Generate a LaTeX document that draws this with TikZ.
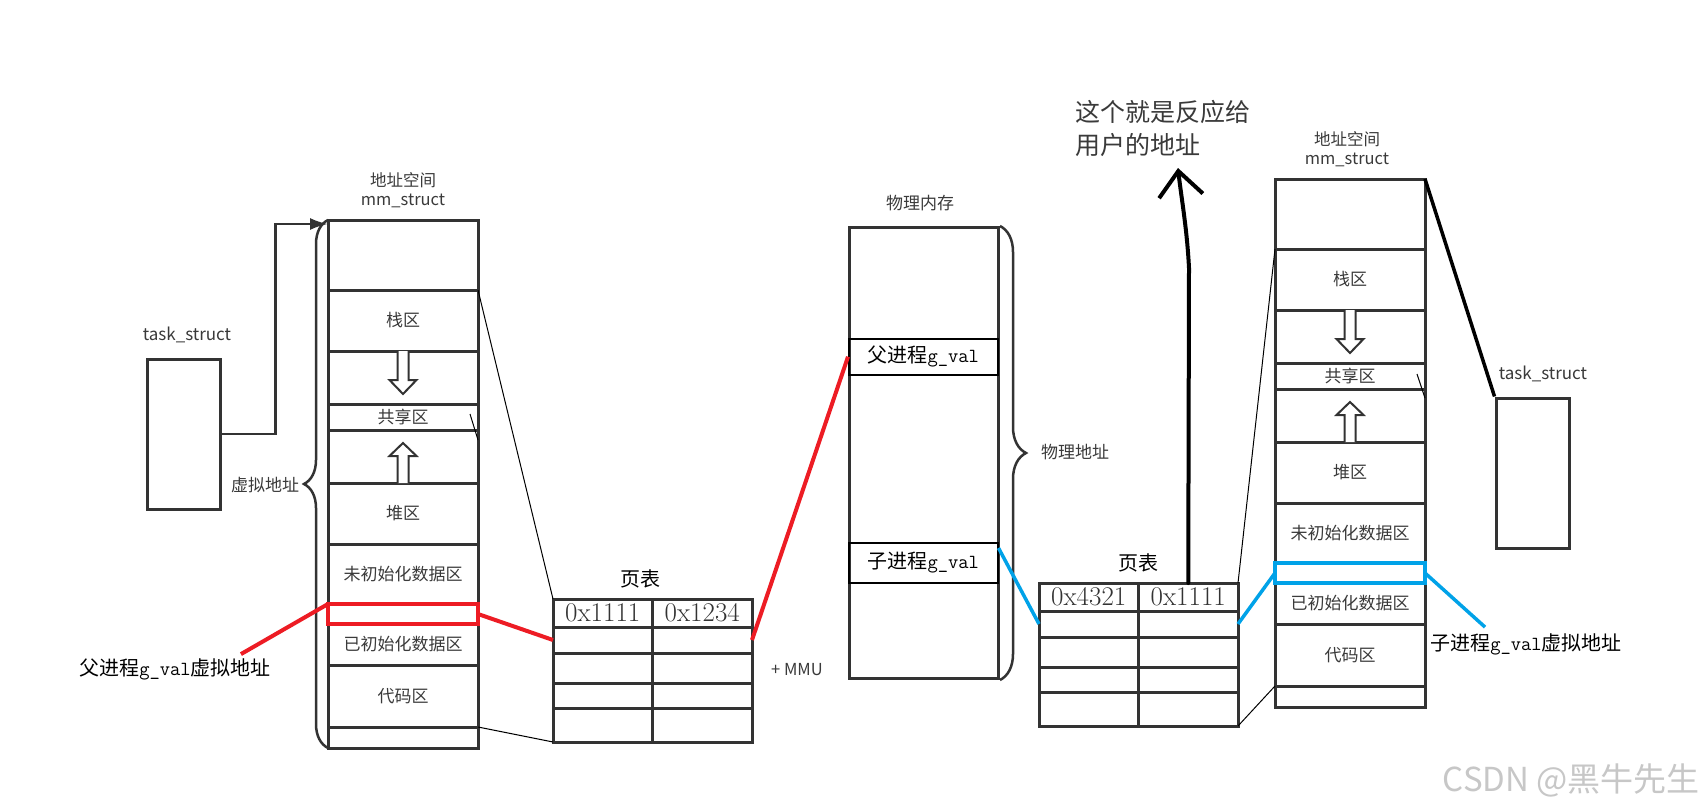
\documentclass[tikz,border=0pt]{standalone}
\usepackage{fontspec}
\newfontfamily\cjk{Noto Sans CJK SC}
\usepackage{xcolor}
\usetikzlibrary{positioning, arrows.meta, calc, decorations.pathreplacing}

\definecolor{boxgray}{HTML}{333333}
\definecolor{txtgray}{HTML}{3A3A3A}
\definecolor{markred}{HTML}{ED1C24}
\definecolor{markblue}{HTML}{00A2E8}

\begin{document}
\begin{tikzpicture}[x=1pt, y=-1pt,
    seg/.style={rectangle, draw=boxgray, line width=3pt, minimum width=150pt, inner sep=0pt, outer sep=0pt, text=txtgray, font=\cjk\fontsize{17}{19}\selectfont},
    cell/.style={rectangle, draw=boxgray, line width=3pt, minimum width=99.5pt, inner sep=0pt, outer sep=0pt, text=boxgray, font=\fontsize{27}{27}\selectfont},
    tbox/.style={rectangle, draw=boxgray, line width=3pt, minimum width=73pt, minimum height=150pt},
    lbl/.style={inner sep=0pt, text=txtgray, font=\cjk\fontsize{17}{19}\selectfont},
    big/.style={lbl, text=black, font=\cjk\fontsize{20}{22}\selectfont},
    tie/.style={black, line width=1pt},
    hollow/.style={draw=boxgray, line width=2pt, fill=white},
    redmark/.style={markred, line width=4pt},
    bluemark/.style={markblue, line width=3.5pt}]

    \path[use as bounding box, fill=white] (0,0) rectangle (1706,808);

    % parent process
    \node[lbl, font=\cjk\fontsize{17}{19}\selectfont] (ptasklabel) at (187,335) {task\_struct};
    \node[tbox] (ptask) at (183.5,434) {};

    \node[lbl, align=center, font=\cjk\fontsize{16.5}{19.5}\selectfont] (pmmlabel) at (403,190) {地址空间\\mm\_struct};
    \node[seg, minimum height=70pt, anchor=north west] (ptop) at (328,220) {};
    \node[seg, minimum height=61pt, below=0pt of ptop] (pstack) {栈区};
    \node[seg, minimum height=53pt, below=0pt of pstack] (pdown) {};
    \node[seg, minimum height=26pt, below=0pt of pdown] (pshare) {共享区};
    \node[seg, minimum height=53pt, below=0pt of pshare] (pup) {};
    \node[seg, minimum height=61pt, below=0pt of pup] (pheap) {堆区};
    \node[seg, minimum height=60pt, below=0pt of pheap] (pbss) {未初始化数据区};
    \node[seg, minimum height=20pt, below=0pt of pbss] (pslot) {};
    \node[seg, minimum height=41pt, below=0pt of pslot] (pdata) {已初始化数据区};
    \node[seg, minimum height=62pt, below=0pt of pdata] (pcode) {代码区};
    \node[seg, minimum height=21pt, below=0pt of pcode] (pbot) {};
    \draw[hollow] ([xshift=-5.5pt]pdown.north) -- ++(0,29) -- ++(-8,0) -- ++(13.5,14) -- ++(13.5,-14) -- ++(-8,0) -- ++(0,-29);
    \draw[hollow] ([xshift=-5.5pt]pup.south) -- ++(0,-27) -- ++(-8,0) -- ++(13.5,-13) -- ++(13.5,13) -- ++(-8,0) -- ++(0,27);

    \draw[boxgray, line width=2.5pt, -{Latex[length=18pt,width=12pt]}] (ptask.east) -- ++(54,0) |- ([yshift=-4pt]ptop.north west);
    \draw[boxgray, line width=2.5pt, decorate, decoration={brace, amplitude=24pt}] (pbot.south west) -- (ptop.north west);
    \node[lbl] (vlabel) at (265,485) {虚拟地址};

    % parent page table
    \node[big] (ltlabel) at (640,579) {页表};
    \node[cell, minimum height=28pt, anchor=north west] (lt1a) at (553,599) {0x1111};
    \node[cell, minimum height=28pt, right=0pt of lt1a] (lt1b) {0x1234};
    \node[cell, minimum height=26pt, below=0pt of lt1a] (lt2a) {};
    \node[cell, minimum height=26pt, below=0pt of lt1b] (lt2b) {};
    \node[cell, minimum height=30pt, below=0pt of lt2a] (lt3a) {};
    \node[cell, minimum height=30pt, below=0pt of lt2b] (lt3b) {};
    \node[cell, minimum height=25pt, below=0pt of lt3a] (lt4a) {};
    \node[cell, minimum height=25pt, below=0pt of lt3b] (lt4b) {};
    \node[cell, minimum height=34pt, below=0pt of lt4a] (lt5a) {};
    \node[cell, minimum height=34pt, below=0pt of lt4b] (lt5b) {};
    \node[lbl, font=\cjk\fontsize{16.5}{19}\selectfont] (mmu) at (797,670) {+ MMU};

    \draw[tie] (ptop.south east) -- (lt1a.north west);
    \draw[tie] (pcode.south east) -- (lt5a.south west);
    \draw[tie] ($(pshare.east)+(-8,-3)$) -- ($(pup.north east)+(0,10)$);

    % physical memory
    \node[lbl] (memlabel) at (920,203) {物理内存};
    \node[tbox, minimum width=149pt, minimum height=451pt, anchor=north west] (mem) at (848,226) {};
    \node[rectangle, draw=black, line width=1.5pt, minimum width=149pt, minimum height=36pt, inner sep=0pt, anchor=north west, font=\cjk\fontsize{20}{22}\selectfont] (memfather) at (848,338) {父进程{\ttfamily g\_val}};
    \node[rectangle, draw=black, line width=1.5pt, minimum width=149pt, minimum height=40pt, inner sep=0pt, anchor=north west, font=\cjk\fontsize{20}{22}\selectfont] (memchild) at (848,542) {子进程{\ttfamily g\_val}};
    \draw[boxgray, line width=2.5pt, decorate, decoration={brace, amplitude=26pt}] (mem.north east) -- (mem.south east);
    \node[lbl] (physlabel) at (1075,452) {物理地址};

    % child page table
    \node[big] (rtlabel) at (1138,563) {页表};
    \node[cell, minimum height=28pt, anchor=north west] (rt1a) at (1039,583) {0x4321};
    \node[cell, minimum height=28pt, right=0pt of rt1a] (rt1b) {0x1111};
    \node[cell, minimum height=26pt, below=0pt of rt1a] (rt2a) {};
    \node[cell, minimum height=26pt, below=0pt of rt1b] (rt2b) {};
    \node[cell, minimum height=30pt, below=0pt of rt2a] (rt3a) {};
    \node[cell, minimum height=30pt, below=0pt of rt2b] (rt3b) {};
    \node[cell, minimum height=25pt, below=0pt of rt3a] (rt4a) {};
    \node[cell, minimum height=25pt, below=0pt of rt3b] (rt4b) {};
    \node[cell, minimum height=34pt, below=0pt of rt4a] (rt5a) {};
    \node[cell, minimum height=34pt, below=0pt of rt4b] (rt5b) {};

    \node[lbl, align=left, anchor=west, font=\cjk\fontsize{25}{33}\selectfont] (userlabel) at (1075,128.5) {这个就是反应给\\用户的地址};
    \coordinate (utip) at (1178,168);
    \draw[black, line width=4pt, line cap=round, -{Straight Barb[length=25pt,width=44pt]}] (rt1b.north) -- (1189,268) .. controls (1187,228) and (1181,196) .. (utip);

    % child process
    \node[lbl, align=center, font=\cjk\fontsize{16.5}{19.5}\selectfont] (cmmlabel) at (1347,149) {地址空间\\mm\_struct};
    \node[seg, minimum height=70pt, anchor=north west] (ctop) at (1275,179) {};
    \node[seg, minimum height=61pt, below=0pt of ctop] (cstack) {栈区};
    \node[seg, minimum height=53pt, below=0pt of cstack] (cdown) {};
    \node[seg, minimum height=26pt, below=0pt of cdown] (cshare) {共享区};
    \node[seg, minimum height=53pt, below=0pt of cshare] (cup) {};
    \node[seg, minimum height=61pt, below=0pt of cup] (cheap) {堆区};
    \node[seg, minimum height=60pt, below=0pt of cheap] (cbss) {未初始化数据区};
    \node[seg, minimum height=20pt, below=0pt of cbss] (cslot) {};
    \node[seg, minimum height=41pt, below=0pt of cslot] (cdata) {已初始化数据区};
    \node[seg, minimum height=62pt, below=0pt of cdata] (ccode) {代码区};
    \node[seg, minimum height=21pt, below=0pt of ccode] (cbot) {};
    \draw[hollow] ([xshift=-5.5pt]cdown.north) -- ++(0,29) -- ++(-8,0) -- ++(13.5,14) -- ++(13.5,-14) -- ++(-8,0) -- ++(0,-29);
    \draw[hollow] ([xshift=-5.5pt]cup.south) -- ++(0,-27) -- ++(-8,0) -- ++(13.5,-13) -- ++(13.5,13) -- ++(-8,0) -- ++(0,27);

    \node[lbl, font=\cjk\fontsize{17}{19}\selectfont] (ctasklabel) at (1543,374) {task\_struct};
    \node[tbox] (ctask) at (1532.5,473) {};
    \draw[black, line width=3.5pt] (ctop.north east) -- (ctask.north west);

    \draw[tie] (ctop.south west) -- (rt1b.north east);
    \draw[tie] (cbot.north west) -- (rt5b.south east);
    \draw[tie] ($(cshare.east)+(-8,-2)$) -- ($(cup.north east)+(0,9)$);

    % red marks: parent g_val
    \node[big] (pvlabel) at (175,669) {父进程{\ttfamily g\_val}虚拟地址};
    \draw[redmark] (pslot.north west) rectangle (pslot.south east);
    \draw[redmark] ($(pvlabel.north east)+(-30,-4)$) -- (pslot.north west);
    \draw[redmark] (pslot.east) -- (lt2a.west);
    \draw[redmark] (lt2b.east) -- (memfather.west);

    % blue marks: child g_val
    \node[big] (cvlabel) at (1526,644) {子进程{\ttfamily g\_val}虚拟地址};
    \draw[bluemark] (cslot.north west) rectangle (cslot.south east);
    \draw[bluemark] ([yshift=-6pt]memchild.north east) -- (rt2a.west);
    \draw[bluemark] (rt2b.east) -- (cslot.west);
    \draw[bluemark] (cslot.east) -- ($(cvlabel.north west)+(55,-6)$);

    \node[lbl, font=\cjk\fontsize{33}{33}\selectfont, text=black!22, anchor=east] (mark) at (1700,780) {CSDN @黑牛先生};
\end{tikzpicture}
\end{document}
